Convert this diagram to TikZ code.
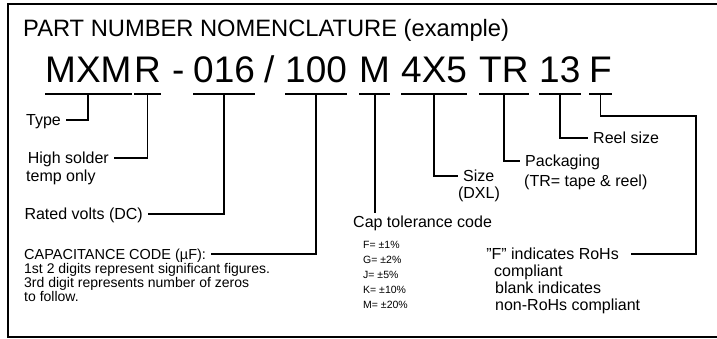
\documentclass[tikz,border=0pt]{standalone}
\usepackage{fontspec}
\setmainfont{Liberation Sans}

\tikzset{
  code/.style={inner sep=0pt, anchor=base west, font=\fontsize{37}{44}\selectfont},
  lbl/.style={inner xsep=5pt, inner ysep=0pt, text height=11.5pt, text depth=0pt, font=\fontsize{16}{19}\selectfont},
  txt/.style={inner sep=0pt, anchor=base west, font=\fontsize{16}{19}\selectfont},
  note/.style={inner sep=0pt, anchor=base west, font=\fontsize{14}{17}\selectfont},
  tiny/.style={inner sep=0pt, anchor=base west, font=\fontsize{10.5}{13}\selectfont},
  wire/.style={line width=1.8pt},
}

\begin{document}
\begin{tikzpicture}[x=1pt,y=-1pt]
	\useasboundingbox (0,0) rectangle (717,339);
	\draw[wire] (719,4) -- (8,4) -- (8,337) -- (719,337);

	\draw (23,37) node[inner sep=0pt, anchor=base west, font=\fontsize{23.7}{28}\selectfont] (title) {PART NUMBER NOMENCLATURE (example)};

	% the part number, one node per field
	\draw (45,83) node[code] (mxm) {MXM}
		(134,83) node[code] (r) {R}
		(172,83) node[code] (dash) {-}
		(193,83) node[code] (v016) {016}
		(264,83) node[code] (slash) {/}
		(285,83) node[code] (c100) {100}
		(359,83) node[code] (m) {M}
		(401,83) node[code] (s4x5) {4X5}
		(479,83) node[code] (tr) {TR}
		(539,83) node[code] (r13) {13}
		(589,83) node[code] (f) {F};

	\draw[wire] ([yshift=-10.5pt]mxm.south west) -- ([yshift=-10.5pt]mxm.south east);
	\draw[wire] ([yshift=-10.5pt]r.south west) -- ([yshift=-10.5pt]r.south east);
	\draw[wire] ([yshift=-10.5pt]v016.south west) -- ([yshift=-10.5pt]v016.south east);
	\draw[wire] ([yshift=-10.5pt]c100.south west) -- ([yshift=-10.5pt]c100.south east);
	\draw[wire] ([yshift=-10.5pt]m.south west) -- ([yshift=-10.5pt]m.south east);
	\draw[wire] ([yshift=-10.5pt]s4x5.south west) -- ([yshift=-10.5pt]s4x5.south east);
	\draw[wire] ([yshift=-10.5pt]tr.south west) -- ([yshift=-10.5pt]tr.south east);
	\draw[wire] ([yshift=-10.5pt]r13.south west) -- ([yshift=-10.5pt]r13.south east);
	\draw[wire] ([yshift=-10.5pt]f.south west) -- ([yshift=-10.5pt]f.south east);

	% left labels
	\draw (66,120) node[lbl, anchor=east] (type) {Type}
		(114,158) node[lbl, anchor=east] (solder) {High solder}
		(26,182) node[txt] (solder2) {temp only}
		(148,214) node[lbl, anchor=east] (volts) {Rated volts (DC)}
		(19,259) node[lbl, anchor=base west, text height=10.4pt, font=\fontsize{14.5}{17}\selectfont] (capcode) {CAPACITANCE CODE (µF):}
		(24,273) node[note] (capcode2) {1st 2 digits represent significant figures.}
		(24,287) node[note] (capcode3) {3rd digit represents number of zeros}
		(24,301) node[note] (capcode4) {to follow.};

	% cap tolerance
	\draw (353,227) node[txt, inner ysep=2pt, text height=11.5pt] (tol) {Cap tolerance code}
		(363,248) node[tiny] (tolf) {F= ±1\%}
		(363,263) node[tiny] (tolg) {G= ±2\%}
		(363,278) node[tiny] (tolj) {J= ±5\%}
		(363,293) node[tiny] (tolk) {K= ±10\%}
		(363,308) node[tiny] (tolm) {M= ±20\%};

	% right labels
	\draw (458,176) node[lbl, anchor=west] (size) {Size}
		(479,198) node[txt, anchor=base] (dxl) {(DXL)}
		(520,161) node[lbl, anchor=west] (pack) {Packaging}
		(524,187) node[txt] (pack2) {(TR= tape \& reel)}
		(588,138) node[lbl, anchor=west] (reel) {Reel size}
		(631,254) node[lbl, anchor=east, inner xsep=12pt] (rohs) {\symbol{34}F\symbol{34} indicates RoHs}
		(494,276) node[txt] (rohs2) {compliant}
		(495,293) node[txt] (rohs3) {blank indicates}
		(495,310) node[txt] (rohs4) {non-RoHs compliant};
	\coordinate (fturn) at (696,116);

	\draw[wire] ([yshift=-10.5pt]mxm.south) |- (type.east);
	\draw[wire] ([yshift=-10.5pt]r.south) |- (solder.east);
	\draw[wire] ([yshift=-10.5pt]v016.south) |- (volts.east);
	\draw[wire] ([yshift=-10.5pt]c100.south) |- (capcode.east);
	\draw[wire] ([yshift=-10.5pt]m.south) -- (m.south |- tol.north);
	\draw[wire] ([yshift=-10.5pt]s4x5.south) |- (size.west);
	\draw[wire] ([yshift=-10.5pt]tr.south) |- (pack.west);
	\draw[wire] ([yshift=-10.5pt]r13.south) |- (reel.west);
	\draw[wire] ([yshift=-10.5pt]f.south) |- (fturn) |- (rohs.east);
\end{tikzpicture}
\end{document}
